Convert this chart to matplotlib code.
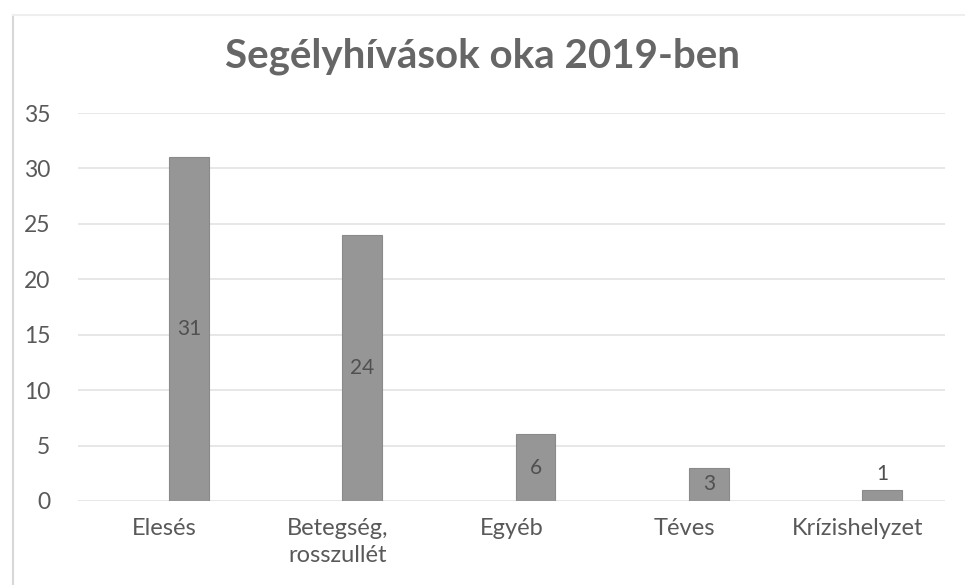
import matplotlib
matplotlib.use("Agg")
import matplotlib.pyplot as plt
import numpy as np

categories = ["Elesés", "Betegség,\nrosszullét", "Egyéb", "Téves", "Krízishelyzet"]
values = [31, 24, 6, 3, 1]
yticks = [0, 5, 10, 15, 20, 25, 30, 35]
title = "Segélyhívások oka 2019-ben"

plt.rcParams['font.family'] = ['Lato', 'DejaVu Sans']

fig = plt.figure(figsize=(9.65, 5.85), dpi=100)
ax = fig.add_axes([0.0808, 0.1436, 0.898, 0.6632])

x = np.arange(len(categories))
offset = 0.14
width = 0.23
bars = ax.bar(x + offset, values, width=width, color="#969696", edgecolor="#8a8a8a", linewidth=0.8, zorder=3)

for xi, v in zip(x, values):
    if v >= 2:
        ax.text(xi + offset, v / 2, str(v), ha="center", va="center", fontsize=15, color="#505050", zorder=4)
    else:
        ax.text(xi + offset, v + 0.5, str(v), ha="center", va="bottom", fontsize=15, color="#505050", zorder=4)

ax.set_xlim(-0.5, len(categories) - 0.5)
ax.set_ylim(0, 35)
ax.set_yticks(yticks)
ax.set_xticks(x)
ax.set_xticklabels(categories, fontsize=17, color="#595959", linespacing=1.4)
ax.tick_params(axis="y", labelsize=16.5, labelcolor="#595959", length=0, pad=20)
ax.tick_params(axis="x", length=0, pad=12)
ax.grid(axis="y", color="#e3e3e3", linewidth=1.2, zorder=0)
for s in ax.spines.values():
    s.set_visible(False)

fig.text(0.5, 0.903, title, ha="center", va="center", fontsize=29, fontweight="bold", color="#666666")

# chart border
fig.add_artist(plt.Line2D([0.013, 0.013], [0.0, 0.975], color="#d8d8d8", linewidth=1.5, transform=fig.transFigure))
fig.add_artist(plt.Line2D([0.013, 1.0], [0.975, 0.975], color="#eeeeee", linewidth=1.5, transform=fig.transFigure))

fig.savefig("out.png", dpi=100)
